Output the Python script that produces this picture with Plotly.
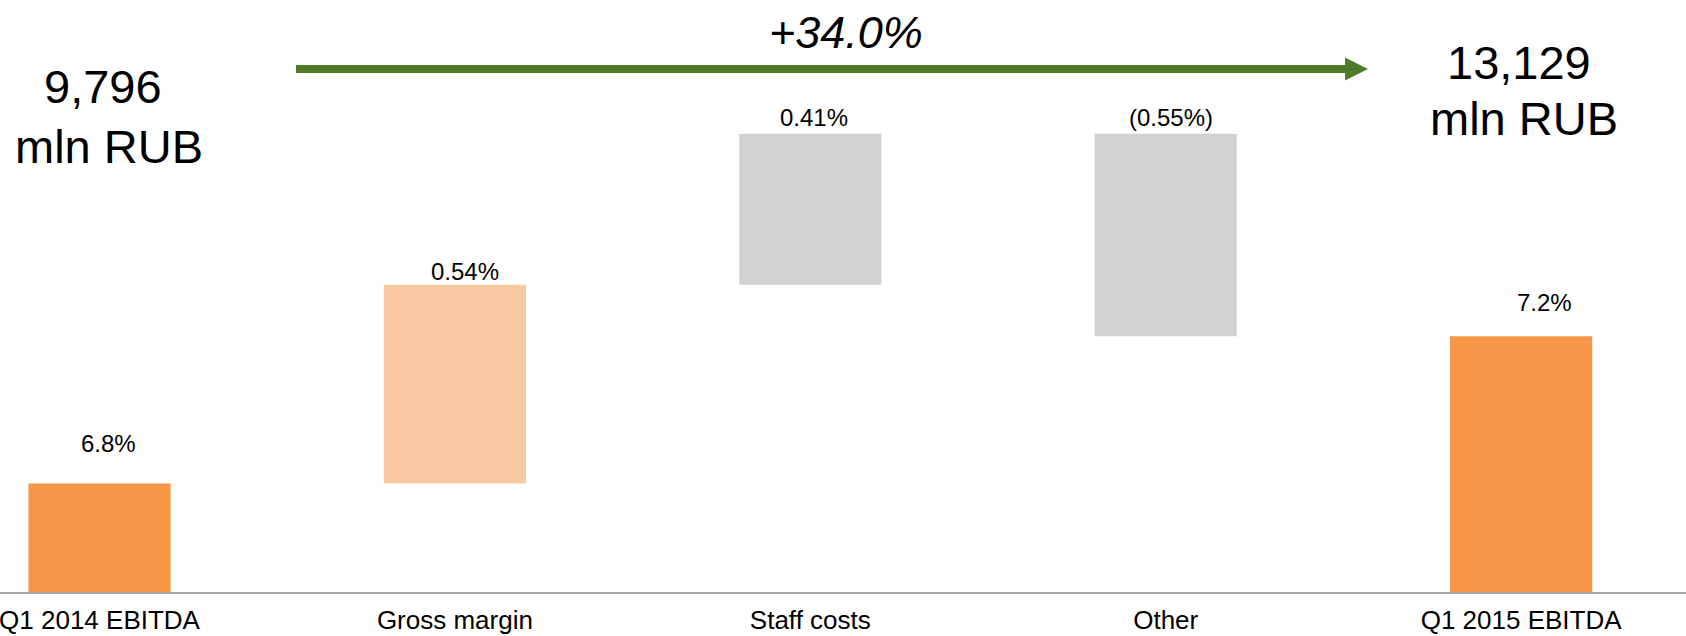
import plotly.graph_objects as go

# EBITDA margin bridge, Q1 2014 -> Q1 2015 (percentage points)
categories = ["Q1 2014 EBITDA", "Gross margin", "Staff costs", "Other", "Q1 2015 EBITDA"]
measures = ["total", "relative", "relative", "relative", "total"]
margin_values = [6.8, 0.54, 0.41, -0.55, 7.2]
value_labels = ["6.8%", "0.54%", "0.41%", "(0.55%)", "7.2%"]

# EBITDA in mln RUB at both ends of the bridge
ebitda_mln_rub = [9796, 13129]

# ---- styling -------------------------------------------------------------
W, H = 1686, 636
PLOT_BOTTOM = 592  # pixel row of the category axis
FONT = "Liberation Sans, Arial, sans-serif"
bar_colors = ["#F79646", "#FACAA3", "#D2D2D2", "#D2D2D2", "#F79646"]
arrow_color = "#4F7A28"
label_shift_x = [9, 10, 4, 5, 23]
label_shift_y = [40, 13, 16, 16, 34]

# floating bars: base/height from the running total
bases, heights, tops = [], [], []
running = 0.0
for m, v in zip(measures, margin_values):
    if m == "total":
        base = 0.0
        running = v
    else:
        base = running
        running += v
    bases.append(base)
    heights.append(v if m == "relative" else running)
    tops.append(max(base, base + (v if m == "relative" else running)))

fig = go.Figure(
    go.Bar(
        x=categories,
        y=heights,
        base=bases,
        marker=dict(color=bar_colors, line=dict(width=0)),
        width=0.4,
        hoverinfo="skip",
    )
)


def px(xp):
    return xp / W


def py(yp):
    return (PLOT_BOTTOM - yp) / PLOT_BOTTOM


annotations = []
for i, (cat, lab) in enumerate(zip(categories, value_labels)):
    annotations.append(dict(
        x=cat, y=tops[i], xref="x", yref="y", text=lab, showarrow=False,
        xanchor="center", yanchor="middle",
        xshift=label_shift_x[i], yshift=label_shift_y[i],
        font=dict(family=FONT, size=24, color="#000000"),
    ))

big = dict(family=FONT, size=47, color="#000000")
start_txt = f"{ebitda_mln_rub[0]:,}"
end_txt = f"{ebitda_mln_rub[1]:,}"
growth = (ebitda_mln_rub[1] / ebitda_mln_rub[0] - 1) * 100
for txt, xc, yc in [(start_txt, 103, 86), ("mln RUB", 109, 146),
                    (end_txt, 1519, 62.5), ("mln RUB", 1524, 119)]:
    annotations.append(dict(
        x=px(xc), y=py(yc), xref="paper", yref="paper", text=txt,
        showarrow=False, xanchor="center", yanchor="middle", font=big,
    ))

annotations.append(dict(
    x=px(846), y=py(33), xref="paper", yref="paper", text=f"+{growth:.1f}%",
    showarrow=False, xanchor="center", yanchor="middle",
    font=dict(family=FONT, size=45, color="#000000", style="italic"),
))

shapes = [
    dict(type="line", xref="paper", yref="paper",
         x0=px(296), x1=px(1346), y0=py(69), y1=py(69),
         line=dict(color=arrow_color, width=8)),
    dict(type="path", xref="paper", yref="paper",
         path=(f"M {px(1345)} {py(57.5)} L {px(1368)} {py(69)} "
               f"L {px(1345)} {py(80.5)} Z"),
         fillcolor=arrow_color, line=dict(width=0)),
]

spacing = 355.4
first_center = 99.5
x0 = -first_center / spacing
x1 = x0 + W / spacing
y_bottom = 6.505
y_top = y_bottom + PLOT_BOTTOM / 368.0

fig.update_layout(
    width=W, height=H,
    margin=dict(l=0, r=0, t=0, b=H - PLOT_BOTTOM),
    paper_bgcolor="white", plot_bgcolor="white",
    showlegend=False,
    annotations=annotations,
    shapes=shapes,
    xaxis=dict(
        range=[x0, x1], showgrid=False, zeroline=False,
        showline=True, linecolor="#A6A6A6", linewidth=2,
        ticks="", ticklabelstandoff=4, automargin=False,
        tickfont=dict(family=FONT, size=26, color="#000000"),
        fixedrange=True,
    ),
    yaxis=dict(range=[y_bottom, y_top], visible=False, fixedrange=True,
               automargin=False),
)

fig.write_html("out.html", config={"displayModeBar": False})
